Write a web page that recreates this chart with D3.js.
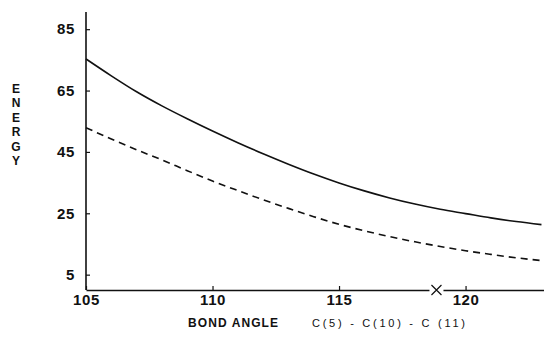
<!DOCTYPE html>
<html>
<head>
<meta charset="utf-8">
<script src="https://cdn.jsdelivr.net/npm/d3@7"></script>
<style>
  body { margin: 0; background: #fff; }
  text { font-family: "Liberation Sans", Arial, sans-serif; fill: #111; }
</style>
</head>
<body>
<script>
const width = 544;
const height = 343;

// data
const angles = [105, 106, 107, 108, 109, 110, 111, 112, 113, 114, 115, 116, 117, 118, 119, 120, 121, 122, 123];
const solidEnergy = [75.3, 69.8, 64.6, 60.0, 55.8, 51.8, 48.0, 44.4, 41.0, 37.8, 34.9, 32.3, 30.0, 28.0, 26.3, 24.9, 23.5, 22.3, 21.3];
const dashedEnergy = [52.9, 49.2, 45.7, 42.4, 38.9, 35.5, 32.4, 29.4, 26.6, 23.9, 21.4, 19.3, 17.4, 15.7, 14.2, 12.8, 11.6, 10.5, 9.6];
const xTicks = [105, 110, 115, 120];
const yTicks = [5, 25, 45, 65, 85];
const markerAngle = 118.85;
const yLetters = ["E", "N", "E", "R", "G", "Y"];

const svg = d3
  .select("body")
  .append("svg")
  .attr("width", width)
  .attr("height", height);

const x = d3.scaleLinear().domain([105, 123.1]).range([86, 544]);
const y = d3.scaleLinear().domain([0, 90.6]).range([290, 12]);

// axes
const xAxis = svg
  .append("g")
  .attr("transform", `translate(0,${y(0)})`)
  .call(d3.axisBottom(x).tickValues(xTicks).tickSizeInner(-4).tickSizeOuter(0).tickPadding(4));
const yAxis = svg
  .append("g")
  .attr("transform", `translate(${x(105)},0)`)
  .call(d3.axisLeft(y).tickValues(yTicks).tickSizeInner(-4).tickSizeOuter(0).tickPadding(11));

[xAxis, yAxis].forEach((g) => {
  g.select(".domain").attr("stroke", "#111").attr("stroke-width", 1.6);
  g.selectAll(".tick line").attr("stroke", "#111").attr("stroke-width", 1.2);
  g.selectAll(".tick text")
    .attr("fill", "#111")
    .attr("font-size", null)
    .style("font-size", "15px")
    .style("font-weight", "bold")
    .style("letter-spacing", "0.6px");
});
// y axis runs up past the last tick
yAxis.select(".domain").attr("d", `M0,${y(0)}V${y(90.6)}`);

// gap in the baseline with an X marker
const mx = x(markerAngle);
svg.append("rect")
  .attr("x", mx - 7).attr("y", y(0) - 3)
  .attr("width", 14).attr("height", 6)
  .attr("fill", "#fff");
svg.append("path")
  .attr("d", `M${mx - 5},${y(0) - 5}L${mx + 5},${y(0) + 5}M${mx + 5},${y(0) - 5}L${mx - 5},${y(0) + 5}`)
  .attr("stroke", "#111")
  .attr("stroke-width", 1.2)
  .attr("fill", "none");

// curves
const line = d3.line()
  .x((d) => x(d[0]))
  .y((d) => y(d[1]))
  .curve(d3.curveMonotoneX);

svg.append("path")
  .datum(angles.map((a, i) => [a, solidEnergy[i]]))
  .attr("d", line)
  .attr("fill", "none")
  .attr("stroke", "#111")
  .attr("stroke-width", 1.6);

svg.append("path")
  .datum(angles.map((a, i) => [a, dashedEnergy[i]]))
  .attr("d", line)
  .attr("fill", "none")
  .attr("stroke", "#111")
  .attr("stroke-width", 1.6)
  .attr("stroke-dasharray", "7,5");

// vertical ENERGY label
svg.append("g")
  .selectAll("text")
  .data(yLetters)
  .enter()
  .append("text")
  .attr("x", 16)
  .attr("y", (d, i) => 93 + i * 14.4)
  .attr("text-anchor", "middle")
  .style("font-size", "12px")
  .style("font-weight", "bold")
  .text((d) => d);

// x axis title
svg.append("text")
  .attr("x", 188)
  .attr("y", 327)
  .attr("textLength", 90)
  .attr("lengthAdjust", "spacing")
  .style("font-size", "12px")
  .style("font-weight", "bold")
  .text("BOND ANGLE");

svg.append("text")
  .attr("x", 312)
  .attr("y", 327)
  .attr("textLength", 153)
  .attr("lengthAdjust", "spacing")
  .attr("xml:space", "preserve")
  .style("font-size", "11px")
  .text("C(5) - C(10) - C (11)");
</script>
</body>
</html>
